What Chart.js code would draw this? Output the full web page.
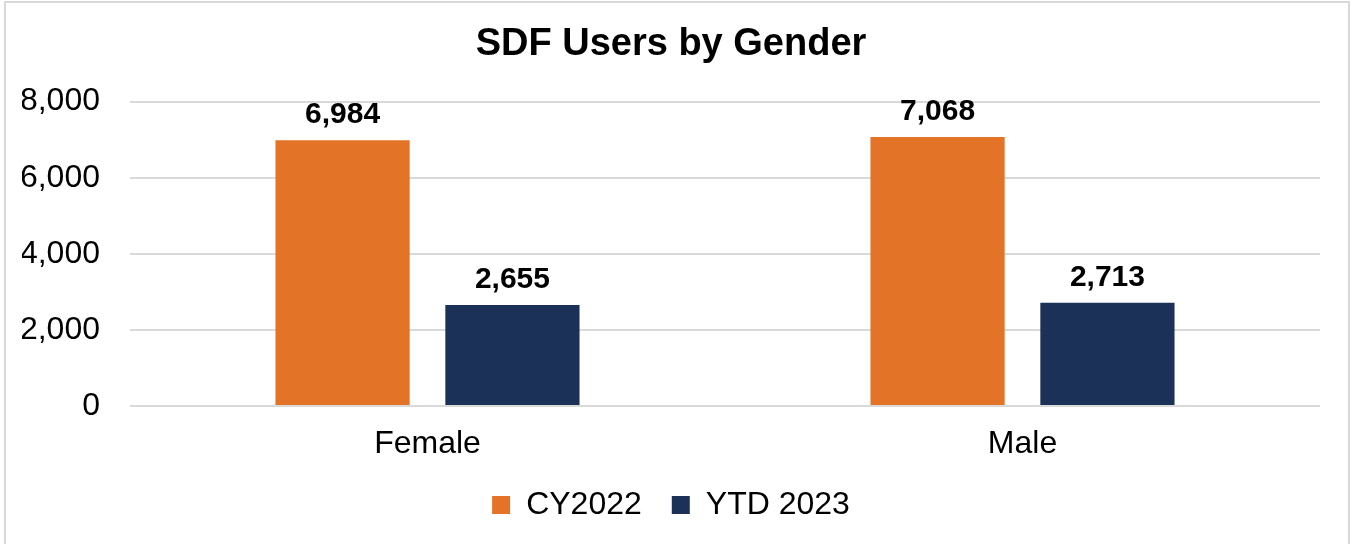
<!DOCTYPE html>
<html>
<head>
<meta charset="utf-8">
<script src="https://cdn.jsdelivr.net/npm/chart.js@4.4.1/dist/chart.umd.min.js"></script>
<style>
  html, body { margin: 0; padding: 0; background: #fff; overflow: hidden; }
  #wrap { position: absolute; left: 0; top: 0; width: 1351px; height: 544px; }
  #frame { position: absolute; left: 4px; top: 1px; width: 1346px; height: 600px; border: 2px solid #d9d9d9; box-sizing: border-box; pointer-events: none; }
</style>
</head>
<body>
<div id="wrap"><canvas id="c" width="1351" height="544"></canvas></div>
<div id="frame"></div>
<script>
const categories = ['Female', 'Male'];
const seriesNames = ['CY2022', 'YTD 2023'];
const cy2022 = [6984, 7068];
const ytd2023 = [2655, 2713];
const yTicks = [0, 2000, 4000, 6000, 8000];

const FONT = 'Arial, "Liberation Sans", sans-serif';

const dataLabels = {
  id: 'dataLabels',
  afterDatasetsDraw(chart) {
    const ctx = chart.ctx;
    ctx.save();
    ctx.font = 'bold 30px ' + FONT;
    ctx.fillStyle = '#000';
    ctx.textAlign = 'center';
    ctx.textBaseline = 'alphabetic';
    chart.data.datasets.forEach((ds, i) => {
      chart.getDatasetMeta(i).data.forEach((bar, j) => {
        ctx.fillText(ds.data[j].toLocaleString('en-US'), bar.x, bar.y - 17);
      });
    });
    ctx.restore();
  }
};

new Chart(document.getElementById('c'), {
  type: 'bar',
  data: {
    labels: categories,
    datasets: [
      { label: seriesNames[0], data: cy2022, backgroundColor: '#E37326', categoryPercentage: 0.571, barPercentage: 0.79 },
      { label: seriesNames[1], data: ytd2023, backgroundColor: '#1B3157', categoryPercentage: 0.571, barPercentage: 0.79 }
    ]
  },
  options: {
    responsive: false,
    animation: false,
    devicePixelRatio: 1,
    layout: { padding: { left: 22, right: 31, top: 0, bottom: 13 } },
    plugins: {
      title: {
        display: true,
        text: 'SDF Users by Gender',
        color: '#000',
        font: { family: FONT, size: 38, weight: 'bold' },
        padding: { top: 22, bottom: 34 }
      },
      legend: {
        position: 'bottom',
        labels: {
          color: '#000',
          font: { family: FONT, size: 32 },
          boxWidth: 18,
          boxHeight: 18,
          padding: 30
        }
      },
      tooltip: { enabled: false }
    },
    scales: {
      x: {
        grid: { display: false, drawTicks: false },
        border: { display: false },
        ticks: { color: '#000', font: { family: FONT, size: 32 }, padding: 19 },
        afterFit(axis) { axis.height = 53; }
      },
      y: {
        min: 0,
        max: 8000,
        afterBuildTicks(axis) { axis.ticks = yTicks.map(v => ({ value: v })); },
        afterFit(axis) { axis.width = 108; },
        grid: { color: '#d9d9d9', lineWidth: 2, drawTicks: false },
        border: { display: false },
        ticks: {
          color: '#000',
          font: { family: FONT, size: 32 },
          padding: 30,
          callback: v => Number(v).toLocaleString('en-US')
        }
      }
    }
  },
  plugins: [dataLabels]
});
</script>
</body>
</html>
